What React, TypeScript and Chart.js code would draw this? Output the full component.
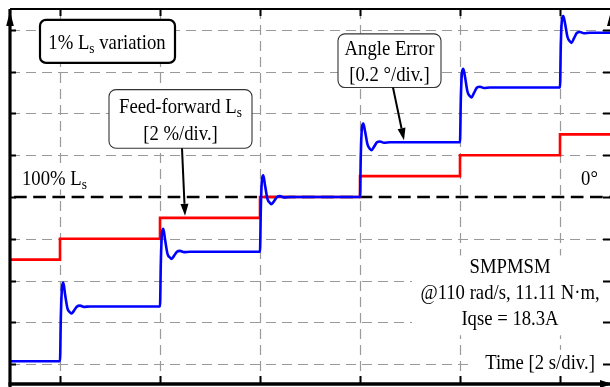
import React, { useEffect, useRef } from "react";
import { Chart, registerables } from "chart.js";

Chart.register(...registerables);

// ---- axes (divisions) ----
const xTicks = [0, 1, 2, 3, 4, 5];
const yTicks = [-4, -3, -2, -1, 0, 1, 2, 3, 4];

// ---- Feed-forward Ls [2 %/div.] (red, stepped) ----
const redTime = [-0.5, 0, 1, 2, 3, 4, 5, 5.5];
const redValue = [-1.5, -1, -0.5, 0, 0.5, 1, 1.5, 1.5];

// ---- Angle Error [0.2 deg/div.] (blue) ----
const blueTime = [
  -0.5,
  0, 0.008, 0.02, 0.033, 0.05, 0.075, 0.1, 0.115, 0.14, 0.17, 0.2, 0.24, 0.3,
  1, 1.008, 1.02, 1.033, 1.05, 1.075, 1.1, 1.115, 1.14, 1.17, 1.2, 1.24, 1.3,
  2, 2.008, 2.02, 2.033, 2.05, 2.075, 2.1, 2.115, 2.14, 2.17, 2.2, 2.24, 2.3,
  3, 3.008, 3.02, 3.033, 3.05, 3.075, 3.1, 3.115, 3.14, 3.17, 3.2, 3.24, 3.3,
  4, 4.008, 4.02, 4.033, 4.05, 4.075, 4.1, 4.115, 4.14, 4.17, 4.2, 4.24, 4.3,
  5, 5.008, 5.02, 5.033, 5.05, 5.075, 5.1, 5.115, 5.14, 5.17, 5.2, 5.24, 5.3,
  5.5,
];
const blueValue = [
  -3.93,
  -3.93, -2.92, -2.17, -2.05, -2.32, -2.67, -2.76, -2.79, -2.72, -2.62, -2.6, -2.63, -2.62,
  -2.62, -1.61, -0.86, -0.76, -1.01, -1.36, -1.45, -1.48, -1.41, -1.31, -1.29, -1.32, -1.31,
  -1.31, -0.3, 0.42, 0.52, 0.28, -0.05, -0.14, -0.17, -0.1, 0, 0.02, -0.01, 0,
  0, 1.01, 1.67, 1.76, 1.58, 1.26, 1.15, 1.12, 1.2, 1.31, 1.33, 1.3, 1.31,
  1.31, 2.32, 2.98, 3.07, 2.88, 2.52, 2.41, 2.38, 2.49, 2.62, 2.64, 2.61, 2.62,
  2.62, 3.63, 4.25, 4.33, 4.16, 3.83, 3.72, 3.69, 3.8, 3.93, 3.95, 3.92, 3.93,
  3.93,
];

type Part = { t: string; sub?: boolean };

const FONT = '"Liberation Serif", "Times New Roman", serif';

function drawRich(
  ctx: CanvasRenderingContext2D,
  parts: Part[],
  x: number,
  baseline: number,
  align: "left" | "center",
  size = 21,
  sx = 0.89
) {
  const subSize = size * 0.72;
  let w = 0;
  for (const p of parts) {
    ctx.font = `${p.sub ? subSize : size}px ${FONT}`;
    w += ctx.measureText(p.t).width;
  }
  ctx.save();
  ctx.translate(x, baseline);
  ctx.scale(sx, 1);
  ctx.textAlign = "left";
  ctx.textBaseline = "alphabetic";
  ctx.fillStyle = "#000";
  let cx = align === "center" ? -w / 2 : 0;
  for (const p of parts) {
    ctx.font = `${p.sub ? subSize : size}px ${FONT}`;
    ctx.fillText(p.t, cx, p.sub ? 4 : 0);
    cx += ctx.measureText(p.t).width;
  }
  ctx.restore();
}

function roundRect(ctx: CanvasRenderingContext2D, x0: number, y0: number, x1: number, y1: number, r: number) {
  ctx.beginPath();
  ctx.moveTo(x0 + r, y0);
  ctx.lineTo(x1 - r, y0);
  ctx.arcTo(x1, y0, x1, y0 + r, r);
  ctx.lineTo(x1, y1 - r);
  ctx.arcTo(x1, y1, x1 - r, y1, r);
  ctx.lineTo(x0 + r, y1);
  ctx.arcTo(x0, y1, x0, y1 - r, r);
  ctx.lineTo(x0, y0 + r);
  ctx.arcTo(x0, y0, x0 + r, y0, r);
  ctx.closePath();
}

function arrow(ctx: CanvasRenderingContext2D, x0: number, y0: number, x1: number, y1: number) {
  const ang = Math.atan2(y1 - y0, x1 - x0);
  const L = 12;
  const hw = 4;
  const bx = x1 - L * Math.cos(ang);
  const by = y1 - L * Math.sin(ang);
  ctx.beginPath();
  ctx.moveTo(x0, y0);
  ctx.lineTo(bx, by);
  ctx.strokeStyle = "#000";
  ctx.lineWidth = 2;
  ctx.setLineDash([]);
  ctx.stroke();
  ctx.beginPath();
  ctx.moveTo(x1, y1);
  ctx.lineTo(bx + hw * Math.sin(ang), by - hw * Math.cos(ang));
  ctx.lineTo(bx - hw * Math.sin(ang), by + hw * Math.cos(ang));
  ctx.closePath();
  ctx.fillStyle = "#000";
  ctx.fill();
}

const scopePlugin = {
  id: "scope",
  beforeDatasetsDraw(chart: any) {
    const { ctx, chartArea: a, scales } = chart;
    const X = (v: number) => scales.x.getPixelForValue(v);
    const Y = (v: number) => scales.y.getPixelForValue(v);
    ctx.save();
    // gray dashed grid
    ctx.strokeStyle = "#9a9a9a";
    ctx.lineWidth = 1.2;
    ctx.setLineDash([10, 6]);
    for (const t of xTicks) {
      const px = Math.round(X(t)) + 0.5;
      ctx.beginPath();
      ctx.moveTo(px, a.top);
      ctx.lineTo(px, a.bottom);
      ctx.stroke();
    }
    for (const v of yTicks) {
      if (v === 0) continue;
      const py = Math.round(Y(v)) + 0.5;
      ctx.beginPath();
      ctx.moveTo(a.left, py);
      ctx.lineTo(a.right, py);
      ctx.stroke();
    }
    // black dashed reference line
    ctx.strokeStyle = "#000";
    ctx.lineWidth = 2.4;
    ctx.setLineDash([12.7, 6.5]);
    ctx.beginPath();
    ctx.moveTo(a.left + 4, Y(0));
    ctx.lineTo(a.right, Y(0));
    ctx.stroke();
    ctx.setLineDash([]);
    // white backgrounds behind free text
    ctx.fillStyle = "#fff";
    const bg = (x0: number, x1: number, yt: number, yb: number) =>
      ctx.fillRect(X(x0), Y(yt), X(x1) - X(x0), Y(yb) - Y(yt));
    bg(3.52, 5.5, -1.4, -3.31);
    bg(4.1, 5.5, -3.66, -4.3);
    bg(-0.4, 0.3, 0.72, 0.18);
    ctx.restore();
  },
  afterDatasetsDraw(chart: any) {
    const { ctx, chartArea: a, scales } = chart;
    const X = (v: number) => scales.x.getPixelForValue(v);
    const Y = (v: number) => scales.y.getPixelForValue(v);
    ctx.save();
    ctx.setLineDash([]);
    ctx.strokeStyle = "#000";
    ctx.fillStyle = "#000";
    // frame
    ctx.lineWidth = 2;
    ctx.beginPath();
    ctx.moveTo(a.left, a.top);
    ctx.lineTo(a.right, a.top);
    ctx.stroke();
    ctx.lineWidth = 3.2;
    ctx.beginPath();
    ctx.moveTo(a.left, a.top);
    ctx.lineTo(a.left, a.bottom + 2);
    ctx.stroke();
    ctx.lineWidth = 3.5;
    ctx.beginPath();
    ctx.moveTo(a.left - 1.5, a.bottom - 1);
    ctx.lineTo(a.right, a.bottom - 1);
    ctx.stroke();
    // ticks
    ctx.lineWidth = 2;
    for (const t of xTicks) {
      const px = Math.round(X(t)) + 0.5;
      ctx.beginPath();
      ctx.moveTo(px, a.bottom - 2);
      ctx.lineTo(px, a.bottom - 9);
      ctx.moveTo(px, a.top);
      ctx.lineTo(px, a.top + 7);
      ctx.stroke();
    }
    for (const v of yTicks) {
      const py = Math.round(Y(v)) + 0.5;
      ctx.beginPath();
      ctx.moveTo(a.left, py);
      ctx.lineTo(a.left + 6, py);
      ctx.moveTo(a.right - 7, py);
      ctx.lineTo(a.right, py);
      ctx.stroke();
    }
    // axis arrows
    const tri = (pts: number[][]) => {
      ctx.beginPath();
      ctx.moveTo(pts[0][0], pts[0][1]);
      ctx.lineTo(pts[1][0], pts[1][1]);
      ctx.lineTo(pts[2][0], pts[2][1]);
      ctx.closePath();
      ctx.fill();
    };
    tri([[a.left, a.top + 2], [a.left - 3.8, a.top + 17], [a.left + 3.8, a.top + 17]]);
    tri([[a.right + 1, a.top + 2], [a.right - 3, a.top + 17], [a.right + 5, a.top + 17]]);
    tri([[a.right + 2, a.bottom - 1], [a.right - 10, a.bottom - 5], [a.right - 10, a.bottom + 3]]);

    // annotation boxes
    ctx.fillStyle = "#fff";
    roundRect(ctx, X(-0.2), Y(4.24), X(1.15), Y(3.21), 6);
    ctx.fill();
    ctx.lineWidth = 2.2;
    ctx.strokeStyle = "#000";
    ctx.stroke();

    ctx.fillStyle = "#fff";
    roundRect(ctx, X(0.49), Y(2.57), X(1.92), Y(1.167), 7);
    ctx.fill();
    ctx.lineWidth = 1.1;
    ctx.strokeStyle = "#333";
    ctx.stroke();

    ctx.fillStyle = "#fff";
    roundRect(ctx, X(2.78), Y(3.905), X(3.81), Y(2.62), 7);
    ctx.fill();
    ctx.lineWidth = 1.1;
    ctx.strokeStyle = "#333";
    ctx.stroke();

    // arrows
    arrow(ctx, X(1.22), Y(1.167), X(1.25), Y(-0.45));
    arrow(ctx, X(3.33), Y(2.62), X(3.44), Y(1.36));

    // texts
    drawRich(ctx, [{ t: "1% L" }, { t: "s", sub: true }, { t: " variation" }], X(0.47), Y(3.55), "center");
    drawRich(ctx, [{ t: "Feed-forward L" }, { t: "s", sub: true }], X(1.205), Y(2.0), "center");
    drawRich(ctx, [{ t: "[2 %/div.]" }], X(1.205), Y(1.36), "center");
    drawRich(ctx, [{ t: "Angle Error" }], X(3.295), Y(3.405), "center");
    drawRich(ctx, [{ t: "[0.2 °/div.]" }], X(3.295), Y(2.786), "center");
    drawRich(ctx, [{ t: "100% L" }, { t: "s", sub: true }], X(-0.38), Y(0.286), "left");
    drawRich(ctx, [{ t: "0°" }], X(5.295), Y(0.286), "center");
    drawRich(ctx, [{ t: "SMPMSM" }], X(4.5), Y(-1.81), "center");
    drawRich(ctx, [{ t: "@110 rad/s, 11.11 N·m," }], X(4.5), Y(-2.452), "center");
    drawRich(ctx, [{ t: "Iqse = 18.3A" }], X(4.5), Y(-3.071), "center");
    drawRich(ctx, [{ t: "Time [2 s/div.]" }], X(4.8), Y(-4.12), "center");
    ctx.restore();
  },
};

export default function App() {
  const ref = useRef<HTMLCanvasElement | null>(null);
  useEffect(() => {
    document.body.style.margin = "0";
    if (!ref.current) return;
    const red = redTime.map((t, i) => ({ x: t, y: redValue[i] }));
    const blue = blueTime.map((t, i) => ({ x: t, y: blueValue[i] }));
    const chart = new Chart(ref.current, {
      type: "scatter",
      data: {
        datasets: [
          {
            label: "Angle Error",
            data: blue,
            showLine: true,
            borderColor: "#0000ff",
            borderWidth: 2.6,
            pointRadius: 0,
            cubicInterpolationMode: "monotone",
            order: 0,
          },
          {
            label: "Feed-forward Ls",
            data: red,
            showLine: true,
            stepped: "before",
            borderColor: "#ff0000",
            borderWidth: 2.6,
            pointRadius: 0,
            order: 1,
          },
        ],
      },
      options: {
        animation: false,
        responsive: false,
        devicePixelRatio: 1,
        layout: { padding: { left: 10, top: 9, right: 0, bottom: 2 } },
        plugins: { legend: { display: false }, tooltip: { enabled: false } },
        scales: {
          x: { type: "linear", min: -0.5, max: 5.5, display: false },
          y: { type: "linear", min: -4.5, max: 4.5, display: false },
        },
      },
      plugins: [scopePlugin],
    } as any);
    return () => chart.destroy();
  }, []);
  return (
    <div style={{ position: "absolute", left: 0, top: 0, width: 610, height: 387, background: "#fff" }}>
      <canvas ref={ref} width={610} height={387} />
    </div>
  );
}
